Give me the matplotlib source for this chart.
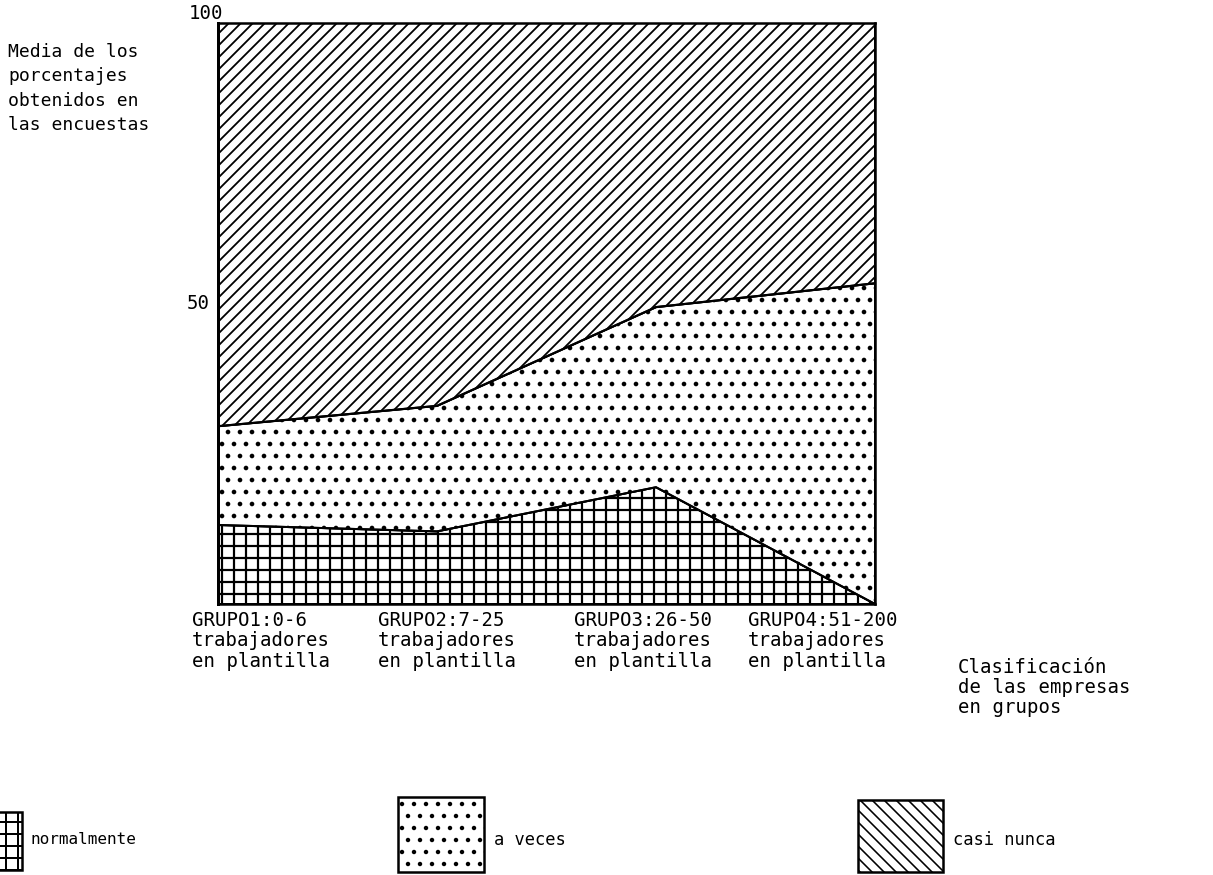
import matplotlib
matplotlib.use('Agg')
import matplotlib.pyplot as plt
from matplotlib.patches import Rectangle
import numpy as np

# Data (mean % per group)
groups = ['GRUPO1:0-6\ntrabajadores\nen plantilla',
          'GRUPO2:7-25\ntrabajadores\nen plantilla',
          'GRUPO3:26-50\ntrabajadores\nen plantilla',
          'GRUPO4:51-200\ntrabajadores\nen plantilla']
normalmente = [13.6, 12.5, 20.1, 0.0]
a_veces = [17.0, 21.6, 31.0, 55.2]
casi_nunca = [69.4, 65.9, 48.9, 44.8]
series_names = ['normalmente', 'a veces', 'casi nunca']

W, H = 1213, 875
DPI = 72
plt.rcParams['font.family'] = ['DejaVu Sans Mono']

fig = plt.figure(figsize=(W / DPI, H / DPI), dpi=DPI)
fig.patch.set_facecolor('white')

# main plot area (pixel box 218..875 x 23..604)
ax = fig.add_axes([218 / W, 1 - 604 / H, (875 - 218) / W, (604 - 23) / H])

x = np.arange(len(groups))
b1 = np.array(normalmente)
b2 = b1 + np.array(a_veces)
b3 = b2 + np.array(casi_nunca)

with plt.rc_context({'hatch.linewidth': 2.2}):
    ax.fill_between(x, 0, b1, facecolor='white', edgecolor='black', hatch='+', linewidth=2)
with plt.rc_context({'hatch.linewidth': 2.2}):
    ax.fill_between(x, b1, b2, facecolor='white', edgecolor='black', hatch='.', linewidth=2)
with plt.rc_context({'hatch.linewidth': 1.8}):
    ax.fill_between(x, b2, b3, facecolor='white', edgecolor='black', hatch='//', linewidth=2)

ax.plot(x, b1, color='black', lw=2)
ax.plot(x, b2, color='black', lw=2.2)

ax.set_xlim(0, 3)
ax.set_ylim(0, 100)
ax.set_xticks([])
ax.set_yticks([])
for sp in ax.spines.values():
    sp.set_linewidth(2.5)
ax.spines['left'].set_linewidth(3)

# y tick labels
ax.annotate('100', xy=(0, 100), xycoords=('axes fraction', 'data'),
            xytext=(-12, 0), textcoords='offset points',
            ha='center', va='bottom', fontsize=19)
ax.annotate('50', xy=(0, 50), xycoords=('axes fraction', 'data'),
            xytext=(-8, 10), textcoords='offset points',
            ha='right', va='center', fontsize=19)

# overlay axes in pixel coordinates for free-standing texts and legend
ov = fig.add_axes([0, 0, 1, 1], facecolor='none')
ov.set_xlim(0, W)
ov.set_ylim(H, 0)
ov.axis('off')

ov.text(8, 43, 'Media de los\nporcentajes\nobtenidos en\nlas encuestas',
        ha='left', va='top', fontsize=18, linespacing=1.45)

label_x = [192, 378, 574, 748]
for lx, g in zip(label_x, groups):
    ov.text(lx, 611, g, ha='left', va='top', fontsize=19, linespacing=1.1)

ov.text(958, 658, 'Clasificación\nde las empresas\nen grupos',
        ha='left', va='top', fontsize=19, linespacing=1.08)

# legend boxes
legend_boxes = [(-40, 812, 62, 58), (398, 797, 86, 75), (858, 800, 85, 72)]
legend_hatch = ['+', '.', '\\\\']
legend_text_x = [30, 494, 953]
legend_size = [16, 17, 17]
for (bx, by, bw, bh), hh, tx, name, fs in zip(legend_boxes, legend_hatch, legend_text_x,
                                              series_names, legend_size):
    with plt.rc_context({'hatch.linewidth': 2.0 if hh != '\\\\' else 1.6}):
        ov.add_patch(Rectangle((bx, by), bw, bh, facecolor='white', edgecolor='black',
                               hatch=hh, linewidth=2.5))
    ov.text(tx, 840, name, ha='left', va='center', fontsize=fs)

fig.savefig('out.png', dpi=DPI, facecolor='white')
